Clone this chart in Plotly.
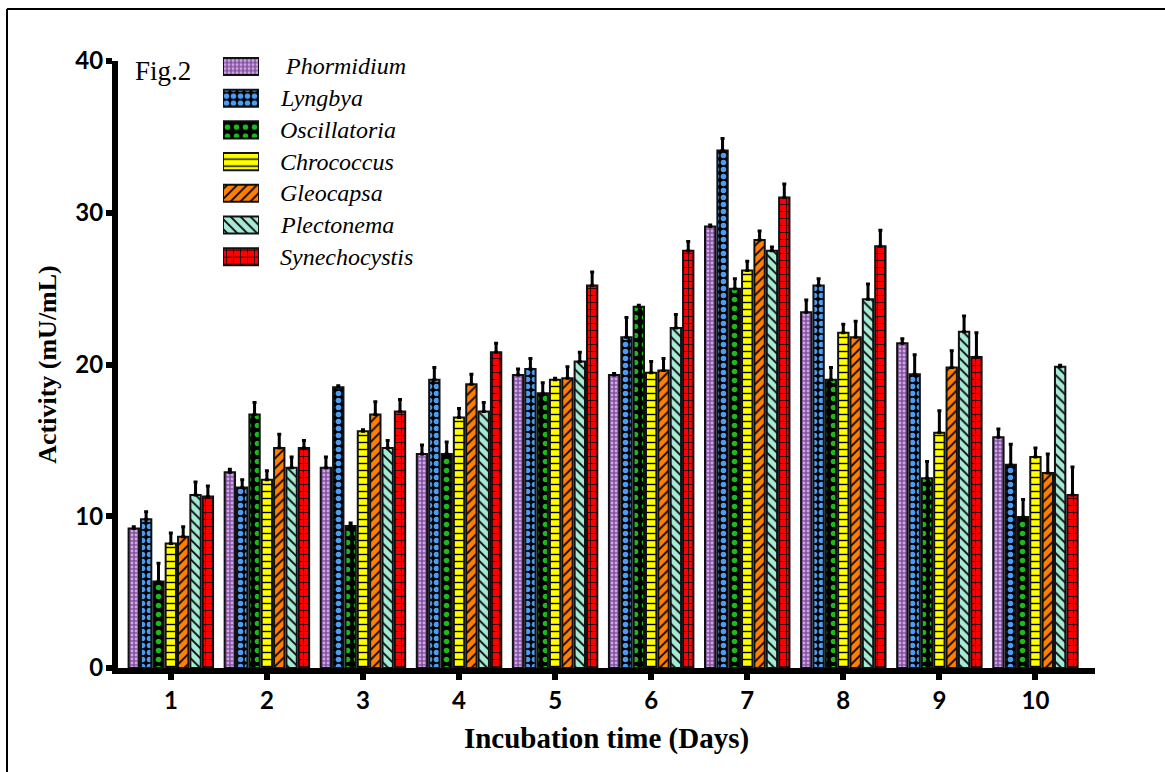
import plotly.graph_objects as go

days = [1, 2, 3, 4, 5, 6, 7, 8, 9, 10]
tick_labels = ["1", "2", "3", "4", "5", "6", "7", "8", "9", "10"]

phormidium = [9.2, 12.9, 13.2, 14.1, 19.3, 19.3, 29.1, 23.45, 21.4, 15.2]
phormidium_err = [0.1, 0.2, 0.7, 0.6, 0.4, 0.1, 0.1, 0.8, 0.3, 0.55]
lyngbya = [9.8, 11.9, 18.5, 19.0, 19.7, 21.8, 34.1, 25.2, 19.35, 13.4]
lyngbya_err = [0.5, 0.5, 0.1, 0.8, 0.7, 1.3, 0.8, 0.45, 1.3, 1.35]
oscillatoria = [5.7, 16.7, 9.35, 14.1, 18.1, 23.8, 25.0, 19.0, 12.5, 9.95]
oscillatoria_err = [1.2, 0.8, 0.2, 0.8, 0.7, 0.1, 0.65, 0.8, 1.1, 1.15]
chrococcus = [8.2, 12.4, 15.6, 16.5, 19.0, 19.45, 26.2, 22.1, 15.5, 13.9]
chrococcus_err = [0.7, 0.6, 0.1, 0.6, 0.1, 0.75, 0.6, 0.55, 1.45, 0.6]
gleocapsa = [8.65, 14.5, 16.7, 18.7, 19.1, 19.6, 28.2, 21.8, 19.8, 12.85]
gleocapsa_err = [0.65, 0.9, 0.85, 0.65, 0.75, 0.8, 0.6, 1.05, 1.1, 1.25]
plectonema = [11.4, 13.2, 14.5, 16.9, 20.2, 22.4, 27.5, 24.3, 22.15, 19.85]
plectonema_err = [0.85, 0.7, 0.5, 0.6, 0.6, 0.9, 0.25, 1.0, 1.05, 0.1]
synechocystis = [11.3, 14.5, 16.9, 20.8, 25.2, 27.5, 31.0, 27.8, 20.5, 11.4]
synechocystis_err = [0.7, 0.5, 0.8, 0.6, 0.9, 0.6, 0.9, 1.05, 1.6, 1.85]

series = [
    ("Phormidium", phormidium, phormidium_err, "#8353a0", "#cfa6e4", ".", 4, 0.4),
    ("Lyngbya", lyngbya, lyngbya_err, "#000000", "#4b9cf2", ".", 7, 0.5),
    ("Oscillatoria", oscillatoria, oscillatoria_err, "#000000", "#1cb81c", ".", 9, 0.3),
    ("Chrococcus", chrococcus, chrococcus_err, "#ffff00", "#000000", "-", 7, 0.2),
    ("Gleocapsa", gleocapsa, gleocapsa_err, "#ff8000", "#000000", "/", 7, 0.25),
    ("Plectonema", plectonema, plectonema_err, "#a6ead6", "#000000", "\\", 7, 0.25),
    ("Synechocystis", synechocystis, synechocystis_err, "#ff0000", "#000000", "+", 7, 0.2),
]

# geometry (pixels)
W, H = 1165, 772
ML, MR, MT, MB = 118, 70, 40, 104
PW, PH = W - ML - MR, H - MT - MB
main_top_px = 61


def px_x(x):
    return (x - ML) / PW


def px_y(y):
    return (H - MB - y) / PH


fig = go.Figure()
for name, vals, errs, bg, fg, shape, size, sol in series:
    pattern = dict(shape=shape, bgcolor=bg, fgcolor=fg, size=size,
                   solidity=sol, fillmode="replace")
    fig.add_trace(go.Bar(
        x=days, y=vals, name=name, showlegend=False,
        marker=dict(color=bg, line=dict(color="#111111", width=2), pattern=pattern),
        error_y=dict(type="data", symmetric=False, array=errs,
                     arrayminus=[0] * len(errs), color="black",
                     thickness=3, width=2),
    ))

# legend swatches drawn as small bars on a hidden helper axis
names = [s[0] for s in series]
slot = 31.7
first_center = 66.5
leg_top = first_center - slot / 2
leg_bot = leg_top + slot * len(names)
for i, (name, vals, errs, bg, fg, shape, size, sol) in enumerate(series):
    pattern = dict(shape=shape, bgcolor=bg, fgcolor=fg, size=size,
                   solidity=sol, fillmode="replace")
    fig.add_trace(go.Bar(
        x=[1], y=[i], orientation="h", width=0.54, showlegend=False,
        hoverinfo="skip", name=name,
        marker=dict(color=bg, line=dict(color="#111111", width=2), pattern=pattern),
        xaxis="x2", yaxis="y2",
    ))

annotations = [dict(
    text="Fig.2", xref="paper", yref="paper", x=px_x(133), y=px_y(71),
    xanchor="left", yanchor="middle", showarrow=False,
    font=dict(family="Liberation Serif", size=27, color="black"),
)]
for i, name in enumerate(names):
    annotations.append(dict(
        text=name, xref="paper", yref="y2", x=px_x(283 if i == 0 else 278), y=i,
        xanchor="left", yanchor="middle", showarrow=False,
        font=dict(family="Liberation Serif", size=24, color="black", style="italic"),
    ))

fig.update_layout(
    width=W, height=H,
    margin=dict(l=ML, r=MR, t=MT, b=MB),
    paper_bgcolor="white", plot_bgcolor="white",
    barmode="group", bargap=0.1, bargroupgap=0.16,
    showlegend=False,
    xaxis=dict(
        range=[0.45, 10.62], tickmode="array", tickvals=days, ticktext=tick_labels,
        showline=True, linecolor="black", linewidth=6, showgrid=False, zeroline=False,
        ticks="outside", ticklen=6, tickwidth=6, tickcolor="black",
        tickfont=dict(family="Lato", size=24, color="black", weight="bold"),
        title=dict(text="Incubation time (Days)", standoff=17,
                   font=dict(family="Liberation Serif", size=29, color="black", weight="bold")),
    ),
    yaxis=dict(
        range=[0, 40], tickvals=[0, 10, 20, 30, 40],
        domain=[0, px_y(main_top_px)],
        showline=True, linecolor="black", linewidth=6, showgrid=False, zeroline=False,
        ticks="outside", ticklen=6, tickwidth=6, tickcolor="black",
        ticklabelstandoff=-2,
        tickfont=dict(family="Lato", size=24, color="black", weight="bold"),
        title=dict(text="Activity (mU/mL)", standoff=13,
                   font=dict(family="Liberation Serif", size=26, color="black", weight="bold")),
    ),
    xaxis2=dict(domain=[px_x(223), px_x(259)], range=[0, 1], visible=False,
                anchor="y2", fixedrange=True),
    yaxis2=dict(domain=[px_y(leg_bot), px_y(leg_top)], range=[len(names) - 0.5, -0.5],
                visible=False, anchor="x2", fixedrange=True),
    annotations=annotations,
    shapes=[
        dict(type="line", xref="paper", yref="paper", x0=px_x(7), x1=px_x(1200),
             y0=px_y(9), y1=px_y(9), line=dict(color="black", width=2)),
        dict(type="line", xref="paper", yref="paper", x0=px_x(7), x1=px_x(7),
             y0=px_y(9), y1=px_y(800), line=dict(color="black", width=2)),
    ],
)

fig.write_html("out.html", config={"displayModeBar": False},
               post_script="document.body.style.margin='0px';")
